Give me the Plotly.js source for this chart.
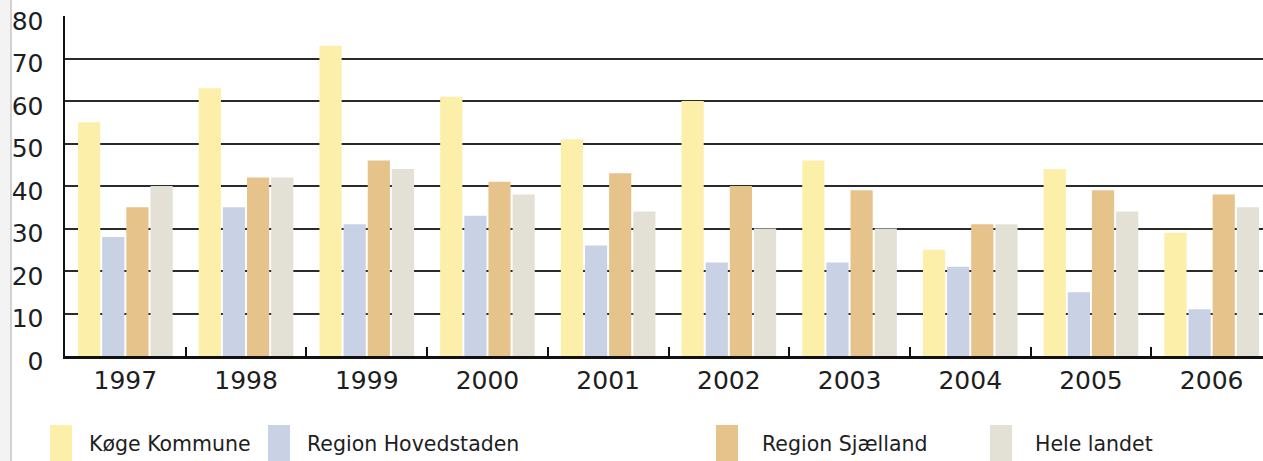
<!DOCTYPE html>
<html>
<head>
<meta charset="utf-8">
<script src="https://cdn.plot.ly/plotly-3.0.1.min.js"></script>
<style>
  html, body { margin: 0; padding: 0; background: #ffffff; }
  #chart { width: 1263px; height: 461px; }
</style>
</head>
<body>
<div id="chart"></div>
<script>
// ---- data ----
const years = ["1997", "1998", "1999", "2000", "2001", "2002", "2003", "2004", "2005", "2006"];
const seriesNames = ["Køge Kommune", "Region Hovedstaden", "Region Sjælland", "Hele landet"];
const koege = [55, 63, 73, 61, 51, 60, 46, 25, 44, 29];
const hovedstaden = [28, 35, 31, 33, 26, 22, 22, 21, 15, 11];
const sjaelland = [35, 42, 46, 41, 43, 40, 39, 31, 39, 38];
const heleLandet = [40, 42, 44, 38, 34, 30, 30, 31, 34, 35];
const yTicks = [0, 10, 20, 30, 40, 50, 60, 70, 80];

// ---- styling ----
const colors = ["#fbefaa", "#c9d1e5", "#e7c38c", "#e3e1d5"];
const W = 1263, H = 461;
const mL = 65, mR = 0, mT = 16, mB = 105;
const plotW = W - mL - mR, plotH = H - mT - mB;
const px2x = p => (p - mL) / plotW;
const px2y = p => (H - mB - p) / plotH;
const groupPx = 120.7;
const xRange = [-0.5, -0.5 + plotW / groupPx];

const values = [koege, hovedstaden, sjaelland, heleLandet];
const traces = values.map((v, i) => ({
  type: "bar",
  name: seriesNames[i],
  x: years,
  y: v,
  marker: { color: colors[i], line: { width: 0 } },
  showlegend: false,
  hoverinfo: "x+y+name"
}));

const font = "DejaVu Sans, Verdana, sans-serif";

// manual legend (positions in pixels converted to paper coords)
const legendSym = [50, 268, 716, 990];
const legendTxt = [87, 305, 760, 1033];
const shapes = [
  { type: "rect", xref: "paper", yref: "paper", x0: px2x(0), x1: px2x(10.5), y0: px2y(H), y1: px2y(0),
    fillcolor: "#f3f3f3", line: { width: 0 }, layer: "below" },
  { type: "line", xref: "paper", yref: "paper", x0: px2x(11), x1: px2x(11), y0: px2y(H), y1: px2y(0),
    line: { color: "#c4c4c4", width: 1.5 } }
];
const annotations = [];
seriesNames.forEach((n, i) => {
  shapes.push({ type: "rect", xref: "paper", yref: "paper",
    x0: px2x(legendSym[i]), x1: px2x(legendSym[i] + 22),
    y0: px2y(H + 2), y1: px2y(425),
    fillcolor: colors[i], line: { width: 0 } });
  annotations.push({ xref: "paper", yref: "paper", x: px2x(legendTxt[i]), y: px2y(444),
    xanchor: "left", yanchor: "middle", showarrow: false, text: n,
    font: { family: font, size: 20.5, color: "#1e1e1e" } });
});

const layout = {
  width: W, height: H,
  margin: { l: mL, r: mR, t: mT, b: mB, pad: 0 },
  paper_bgcolor: "#ffffff",
  plot_bgcolor: "#ffffff",
  barmode: "group",
  bargap: 0.2,
  bargroupgap: 0.08,
  showlegend: false,
  font: { family: font, color: "#1e1e1e" },
  xaxis: {
    type: "category",
    range: xRange,
    tickson: "boundaries",
    ticks: "inside",
    ticklen: 9,
    tickwidth: 2,
    tickcolor: "#111",
    showline: true,
    linecolor: "#111",
    linewidth: 2.5,
    showgrid: false,
    zeroline: false,
    tickfont: { family: font, size: 25, color: "#1e1e1e" },
    ticklabelstandoff: 0
  },
  yaxis: {
    range: [0, 80],
    tickvals: yTicks,
    ticktext: yTicks.map(String),
    ticks: "",
    showline: true,
    linecolor: "#111",
    linewidth: 2.5,
    showgrid: true,
    gridcolor: "#2a2a2a",
    gridwidth: 2,
    zeroline: false,
    tickfont: { family: font, size: 25, color: "#1e1e1e" },
    ticklabelstandoff: 14,
    ticklabelshift: 5
  },
  shapes: shapes,
  annotations: annotations
};

Plotly.newPlot("chart", traces, layout, { displayModeBar: false, staticPlot: true });
</script>
</body>
</html>
